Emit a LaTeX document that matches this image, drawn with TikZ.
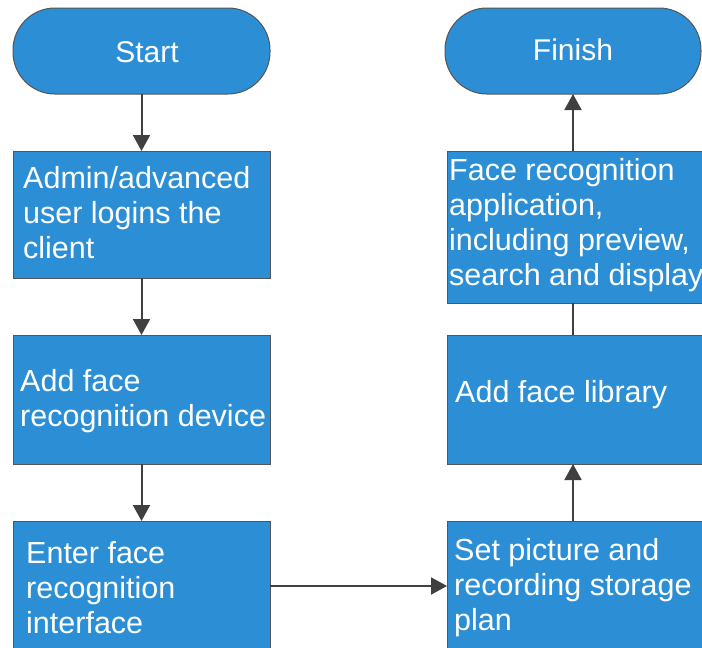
\documentclass[tikz,border=0pt]{standalone}
\usepackage{fontspec}
\setmainfont{Liberation Sans}
\usetikzlibrary{arrows.meta}
\definecolor{boxblue}{RGB}{44,143,214}
\definecolor{edgegray}{RGB}{85,85,85}
\definecolor{arrowgray}{RGB}{64,64,64}
\tikzset{
  flowbox/.style={draw=edgegray, line width=1pt, fill=boxblue, anchor=north west, inner sep=0pt, outer sep=0pt},
  termbox/.style={flowbox, rounded corners=42pt},
  lbl/.style={anchor=base west, inner sep=0pt, text=white},
  ctr/.style={anchor=base, inner sep=0pt, text=white},
  conn/.style={draw=arrowgray, line width=2pt},
  arr/.style={conn, -{Triangle[width=17pt,length=16pt]}},
}
\newcommand{\lines}[1]{\parbox[t]{320pt}{\raggedright\fontsize{30.5}{35}\selectfont #1}}
\begin{document}
\begin{tikzpicture}[x=1pt,y=-1pt]
\useasboundingbox (0,0) rectangle (702,648);
% terminals
\node[termbox, minimum width=257pt, minimum height=86pt] (start) at (13,8) {};
\node[termbox, minimum width=256pt, minimum height=86pt] (finish) at (445,8) {};
\node[ctr] (tstart) at (147,62) {\fontsize{30}{35}\selectfont Start};
\node[ctr] (tfinish) at (573,60) {\fontsize{30}{35}\selectfont Finish};
% left column
\node[flowbox, minimum width=257pt, minimum height=127pt] (b1) at (13,151) {};
\node[flowbox, minimum width=257pt, minimum height=129pt] (b2) at (13,335) {};
\node[flowbox, minimum width=257pt, minimum height=130pt] (b3) at (13,521) {};
% right column
\node[flowbox, minimum width=258pt, minimum height=152pt] (r1) at (447,151) {};
\node[flowbox, minimum width=258pt, minimum height=129pt] (r2) at (447,335) {};
\node[flowbox, minimum width=258pt, minimum height=130pt] (r3) at (447,521) {};
% texts
\node[lbl] (t1) at (23,188) {\lines{Admin/advanced\\user logins the\\client}};
\node[lbl] (t2) at (20,391) {\lines{Add face\\recognition device}};
\node[lbl] (t3) at (26,563) {\lines{Enter face\\recognition\\interface}};
\node[lbl] (tr1) at (449,180) {\lines{Face recognition\\application,\\including preview,\\search and display}};
\node[lbl] (tr2) at (455,402) {\lines{Add face library}};
\node[lbl] (tr3) at (454,560) {\lines{Set picture and\\recording storage\\plan}};
% connectors
\draw[arr] (start.south) -- (start.south |- b1.north);
\draw[arr] (b1.south) -- (b1.south |- b2.north);
\draw[arr] (b2.south) -- (b2.south |- b3.north);
\draw[arr] (b3.east) -- (b3.east -| r3.west);
\coordinate (rx) at (573,0);
\draw[arr] (rx |- r3.north) -- (rx |- r2.south);
\draw[conn] (rx |- r2.north) -- (rx |- r1.south);
\draw[arr] (rx |- r1.north) -- (rx |- finish.south);
\end{tikzpicture}
\end{document}
